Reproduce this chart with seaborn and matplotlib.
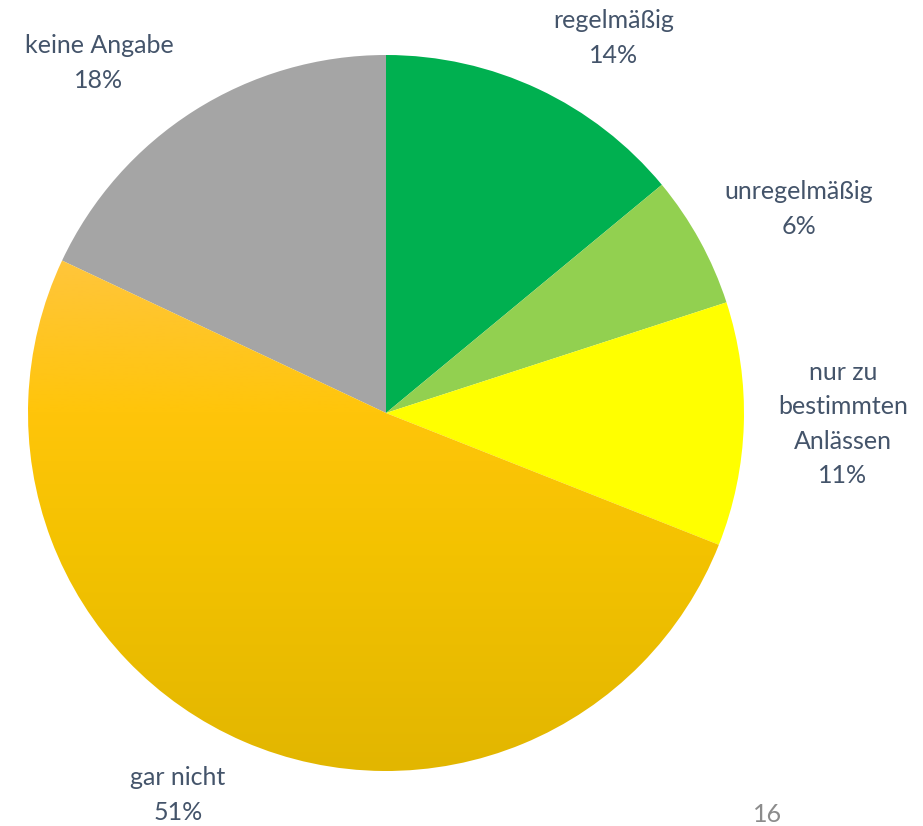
import matplotlib
matplotlib.use("Agg")
import matplotlib.pyplot as plt
import seaborn as sns
import numpy as np
from matplotlib.colors import LinearSegmentedColormap

sns.set_theme(style="white")
plt.rcParams['font.family'] = ['Lato', 'DejaVu Sans']

# data, clockwise from 12 o'clock
categories = ["regelmäßig", "unregelmäßig", "nur zu\nbestimmten\nAnlässen", "gar nicht", "keine Angabe"]
shares = [14, 6, 11, 51, 18]
slice_colors = ["#00B050", "#92D050", "#FFFF00", "#FFC000", "#A5A5A5"]
page_no = "16"

txt_col = "#44546A"

fig = plt.figure(figsize=(9.23, 8.26), dpi=100)
ax = fig.add_axes([0, 0, 1, 1])

cx, cy, r = 386, 826 - 413, 358
wedges, _ = ax.pie(shares, colors=sns.color_palette(slice_colors), startangle=90,
                   counterclock=False, center=(cx, cy), radius=r,
                   wedgeprops=dict(linewidth=0), frame=True)

# vertical gradient on the big "gar nicht" slice
big = wedges[3]
big.set_facecolor("none")
grad_cmap = LinearSegmentedColormap.from_list(
    "gold", [(0.0, "#E2B600"), (0.3, "#F3C200"), (0.5, "#FFC50A"),
             (0.72, "#FFC53D"), (1.0, "#FFC64A")])
grad = np.linspace(0, 1, 256).reshape(-1, 1)
im = ax.imshow(grad, cmap=grad_cmap, origin="lower", aspect="auto",
               extent=(cx - r, cx + r, cy - r, cy + r), zorder=big.get_zorder())
im.set_clip_path(big)
ax.set_xlim(0, 923)
ax.set_ylim(0, 826)
ax.set_aspect("equal")
ax.axis("off")

# labels (pixel positions measured from the slide, y flipped)
label_pos = [(614, 38), (799, 209), (843, 424), (178, 795), (99, 63)]
for lab, val, (px, py) in zip(categories, shares, label_pos):
    ax.text(px, 826 - py, f"{lab}\n{val}%", ha="center", va="center",
            fontsize=18, color=txt_col, linespacing=1.6)

ax.text(768, 826 - 815, page_no, ha="center", va="center", fontsize=18, color="#8C8C8C")

fig.savefig("out.png", dpi=100, facecolor="white")
